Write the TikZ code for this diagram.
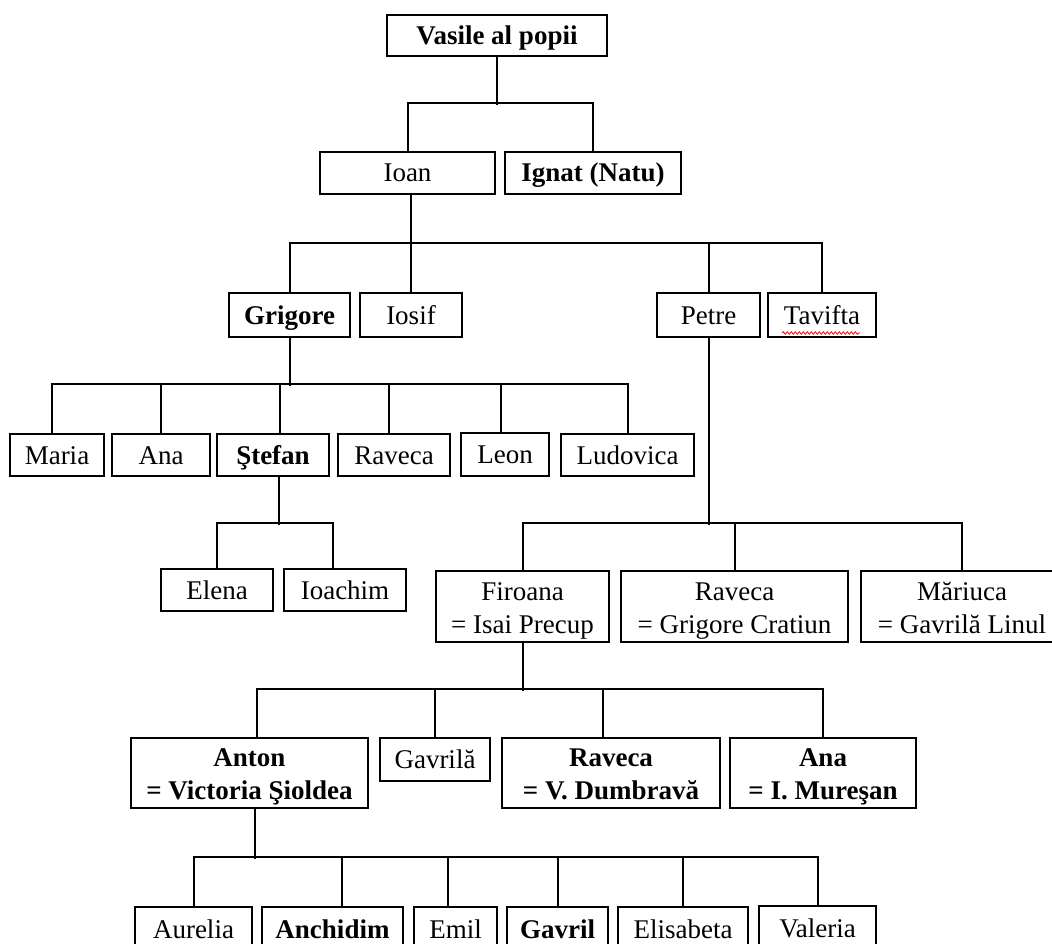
\documentclass[tikz,border=0pt]{standalone}
\usepackage{fontspec}
\setmainfont{Liberation Serif}
\usetikzlibrary{calc,decorations.pathmorphing}
\newcommand\stt{\rule[-7.5pt]{0pt}{33pt}}
\newcommand\lo[1]{\stt\raisebox{-1pt}[0pt][0pt]{#1}}
\newcommand\famnode[6]{\node[box, minimum width={(#4-#2)*1pt}, minimum height={(#5-#3)*1pt}] (#1) at ({(#2+#4)/2},{(#3+#5)/2}) {#6};}
\begin{document}
\begin{tikzpicture}[x=1pt,y=-1pt,
  box/.style={draw, line width=2pt, inner sep=0pt, align=center, font=\fontsize{27}{33}\selectfont, execute at begin node={\stt}},
  conn/.style={line width=2pt},
  squiggle/.style={draw=red, line width=0.8pt, decorate, decoration={snake, amplitude=1.2pt, segment length=4pt}}]
\path[use as bounding box] (0,0) rectangle (1052,944);
\clip (0,0) rectangle (1052,944);
% generation 0
\famnode{vasile}{387}{15}{607}{56}{\bfseries Vasile al popii}
% generation 1
\famnode{ioan}{320}{152}{495}{194}{Ioan}
\famnode{ignat}{505}{152}{681}{194}{\bfseries Ignat (Natu)}
% generation 2
\famnode{grigore}{229}{293}{350}{337}{\bfseries Grigore}
\famnode{iosif}{360}{293}{462}{337}{Iosif}
\famnode{petre}{657}{293}{760}{337}{Petre}
\famnode{tavifta}{768}{293}{876}{337}{Tavifta}
% generation 3 (Grigore)
\famnode{maria}{10}{434}{104}{476}{Maria}
\famnode{ana}{112}{434}{210}{476}{Ana}
\famnode{stefan}{217}{434}{329}{476}{\bfseries Ştefan}
\famnode{raveca1}{338}{434}{450}{476}{Raveca}
\famnode{leon}{461}{433}{549}{476}{Leon}
\famnode{ludovica}{561}{434}{694}{476}{Ludovica}
% generation 4 (Stefan)
\famnode{elena}{161}{569}{273}{611}{Elena}
\famnode{ioachim}{284}{569}{406}{611}{Ioachim}
% generation 3 (Petre)
\famnode{firoana}{436}{571}{609}{642}{\lo{Firoana}\\\lo{= Isai Precup}}
\famnode{raveca2}{621}{571}{848}{642}{\lo{Raveca}\\\lo{= Grigore Cratiun}}
\famnode{mariuca}{861}{571}{1063}{642}{\lo{Măriuca}\\\lo{= Gavrilă Linul}}
% generation 4 (Firoana)
\famnode{anton}{131}{738}{368}{808}{\lo{\bfseries Anton}\\\lo{\bfseries = Victoria Şioldea}}
\famnode{gavrila}{380}{738}{490}{781}{Gavrilă}
\famnode{raveca3}{502}{738}{720}{808}{\lo{\bfseries Raveca}\\\lo{\bfseries = V. Dumbravă}}
\famnode{ana2}{730}{738}{916}{808}{\lo{\bfseries Ana}\\\lo{\bfseries = I. Mureşan}}
% generation 5 (Anton)
\famnode{aurelia}{135}{907}{252}{951}{Aurelia}
\famnode{anchidim}{262}{907}{403}{951}{\bfseries Anchidim}
\famnode{emil}{414}{907}{497}{951}{Emil}
\famnode{gavril}{507}{907}{608}{951}{\bfseries Gavril}
\famnode{elisabeta}{618}{907}{748}{951}{Elisabeta}
\famnode{valeria}{759}{906}{876}{951}{Valeria}
% spell-check squiggle
\draw[squiggle] ([shift={(15,-5)}]tavifta.south west) -- ([shift={(93,-5)}]tavifta.south west);
% connectors: Vasile
\draw[conn] (vasile.south) -- ++(0,48);
\draw[conn] (ioan.north) -- ++(0,-48) -| (ignat.north);
% Ioan
\draw[conn] ([xshift=3.5pt]ioan.south) -- (iosif.north);
\draw[conn] (grigore.north) -- ++(0,-49) -| (tavifta.north);
\draw[conn] (petre.north) -- ++(0,-49);
% Grigore
\draw[conn] (grigore.south) -- ++(0,48);
\draw[conn] ([xshift=-5pt]maria.north) -- ++(0,-49) -| (ludovica.north);
\draw[conn] (ana.north) -- ++(0,-49);
\draw[conn] ([xshift=7pt]stefan.north) -- ++(0,-49);
\draw[conn] ([xshift=-5pt]raveca1.north) -- ++(0,-49);
\draw[conn] ([xshift=-4pt]leon.north) -- ++(0,-48);
% Stefan
\draw[conn] ([xshift=6pt]stefan.south) -- ++(0,48);
\draw[conn] (elena.north) -- ++(0,-45) -| ([xshift=-12pt]ioachim.north);
% Petre
\draw[conn] (petre.south) -- ++(0,187);
\draw[conn] (firoana.north) -- ++(0,-47) -| (mariuca.north);
\draw[conn] (raveca2.north) -- ++(0,-47);
% Firoana
\draw[conn] (firoana.south) -- ++(0,48);
\draw[conn] ([xshift=7pt]anton.north) -- ++(0,-48) -| (ana2.north);
\draw[conn] (gavrila.north) -- ++(0,-48);
\draw[conn] ([xshift=-8pt]raveca3.north) -- ++(0,-48);
% Anton
\draw[conn] ([xshift=5pt]anton.south) -- ++(0,50);
\draw[conn] (aurelia.north) -- ++(0,-49) -| (valeria.north);
\draw[conn] ([xshift=9.5pt]anchidim.north) -- ++(0,-49);
\draw[conn] ([xshift=-7.5pt]emil.north) -- ++(0,-49);
\draw[conn] (gavril.north) -- ++(0,-49);
\draw[conn] (elisabeta.north) -- ++(0,-49);
\end{tikzpicture}
\end{document}
